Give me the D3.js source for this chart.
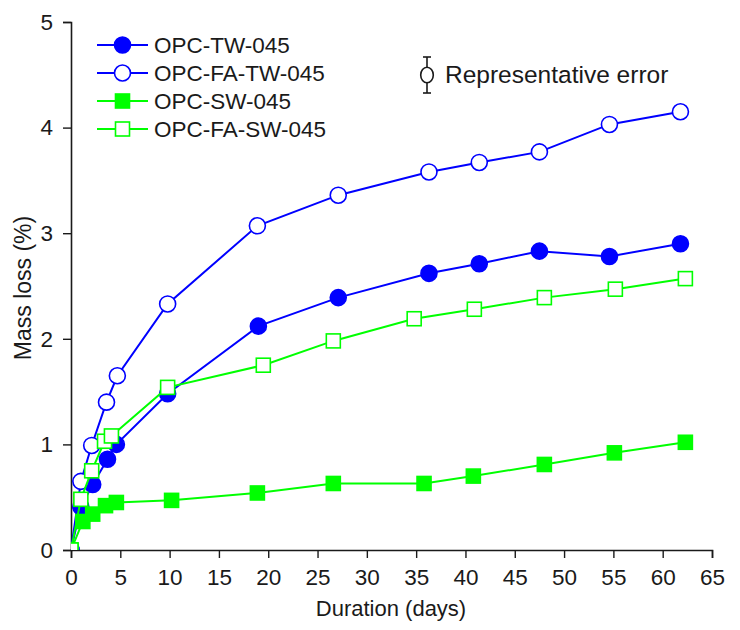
<!DOCTYPE html>
<head>
  <meta charset="utf-8">
  <script src="https://d3js.org/d3.v7.min.js"></script>
  <style>
    body { margin:0; background:#fff; }
    text { font-family: "Liberation Sans", Arial, sans-serif; fill:#1a1a1a; }
    .axis text { font-family: "Liberation Sans", Arial, sans-serif; font-size:22.5px; }
  </style>
</head>

<body>
<svg width="740" height="630"></svg>
<script>

// values
const tw_days   = [0, 1.0, 2.2, 3.7, 4.6, 9.8, 19.0, 27.1, 36.3, 41.4, 47.5, 54.6, 61.8]
const tw_loss   = [0, 0.41, 0.62, 0.86, 1.00, 1.48, 2.12, 2.39, 2.62, 2.71, 2.83, 2.78, 2.90]
const fatw_days = [0, 1.0, 2.1, 3.6, 4.7, 9.8, 18.9, 27.1, 36.3, 41.4, 47.5, 54.6, 61.8]
const fatw_loss = [0, 0.65, 0.99, 1.40, 1.65, 2.33, 3.07, 3.36, 3.58, 3.67, 3.77, 4.03, 4.15]
const sw_days   = [0, 1.2, 2.2, 3.5, 4.6, 10.2, 18.9, 26.6, 35.8, 40.8, 48.0, 55.1, 62.3]
const sw_loss   = [0, 0.27, 0.34, 0.42, 0.45, 0.47, 0.54, 0.63, 0.63, 0.70, 0.81, 0.92, 1.02]
const fasw_days = [0, 1.0, 2.1, 3.4, 4.1, 9.8, 19.5, 26.6, 34.8, 40.9, 48.0, 55.2, 62.3]
const fasw_loss = [0, 0.48, 0.75, 1.03, 1.08, 1.54, 1.75, 1.98, 2.19, 2.28, 2.39, 2.47, 2.57]

const series_names = ["OPC-TW-045", "OPC-FA-TW-045", "OPC-SW-045", "OPC-FA-SW-045"]
const x_ticks = d3.range(0, 66, 5)
const y_ticks = [0, 1, 2, 3, 4, 5]

const blue = "#0000ff", green = "#00ff00"

const series = [
  {name: series_names[0], days: tw_days,   loss: tw_loss,   color: blue,  shape: "circle", filled: true},
  {name: series_names[1], days: fatw_days, loss: fatw_loss, color: blue,  shape: "circle", filled: false},
  {name: series_names[2], days: sw_days,   loss: sw_loss,   color: green, shape: "square", filled: true},
  {name: series_names[3], days: fasw_days, loss: fasw_loss, color: green, shape: "square", filled: false},
]

const svg = d3.select("svg")
const x = d3.scaleLinear().domain([0, 65]).range([71, 712])
const y = d3.scaleLinear().domain([0, 5]).range([550, 22])

svg.append("clipPath").attr("id", "plot")
  .append("rect").attr("x", 71).attr("y", 0).attr("width", 669).attr("height", 550)

// axes
const xa = svg.append("g").attr("class", "axis").attr("transform", "translate(0,550)")
xa.call(d3.axisBottom(x).tickValues(d3.range(2.5, 65, 5)).tickSize(4).tickFormat(""))
xa.call(d3.axisBottom(x).tickValues(x_ticks).tickSize(8).tickPadding(11).tickFormat(d3.format("d")))

const ya = svg.append("g").attr("class", "axis").attr("transform", "translate(71,0)")
ya.call(d3.axisLeft(y).tickValues(d3.range(0.5, 5, 1)).tickSize(4).tickFormat(""))
ya.call(d3.axisLeft(y).tickValues(y_ticks).tickSize(8).tickPadding(10).tickFormat(d3.format("d")))

svg.selectAll(".axis path").attr("stroke", "#1a1a1a").attr("stroke-width", 1.6)
svg.selectAll(".axis line").attr("stroke", "#1a1a1a").attr("stroke-width", 1.4)
svg.selectAll(".axis text").attr("fill", "#1a1a1a")

svg.append("text").attr("x", 391).attr("y", 616).attr("text-anchor", "middle")
  .style("font-size", "22px").text("Duration (days)")
svg.append("text").attr("transform", "translate(31,288) rotate(-90)").attr("text-anchor", "middle")
  .style("font-size", "23px").text("Mass loss (%)")

function marker(g, s, cx, cy) {
  if (s.shape === "circle") {
    g.append("circle").attr("cx", cx).attr("cy", cy).attr("r", 8)
      .attr("fill", s.filled ? s.color : "#fff").attr("stroke", s.color).attr("stroke-width", 1.6)
  } else {
    g.append("rect").attr("x", cx - 7).attr("y", cy - 7).attr("width", 14).attr("height", 14)
      .attr("fill", s.filled ? s.color : "#fff").attr("stroke", s.color).attr("stroke-width", 1.6)
  }
}

const plot = svg.append("g").attr("clip-path", "url(#plot)")
const line = d3.line().x(d => x(d[0])).y(d => y(d[1]))

series.forEach(function(s) {
  const pts = s.days.map((d, i) => [d, s.loss[i]])
  const g = plot.append("g")
  g.append("path").attr("d", line(pts)).attr("fill", "none")
    .attr("stroke", s.color).attr("stroke-width", 2)
  pts.forEach(p => marker(g, s, x(p[0]), y(p[1])))
})

// legend
const leg = svg.append("g")
series.forEach(function(s, i) {
  const ly = 45 + i * 28
  leg.append("line").attr("x1", 97).attr("x2", 148).attr("y1", ly).attr("y2", ly)
    .attr("stroke", s.color).attr("stroke-width", 2)
  marker(leg, s, 122.5, ly)
  leg.append("text").attr("x", 154).attr("y", ly + 8).style("font-size", "22.5px").text(s.name)
})

// representative error symbol
const eg = svg.append("g").attr("stroke", "#1a1a1a").attr("stroke-width", 1.6).attr("fill", "none")
eg.append("line").attr("x1", 427).attr("x2", 427).attr("y1", 57).attr("y2", 93)
eg.append("line").attr("x1", 423).attr("x2", 431).attr("y1", 57).attr("y2", 57)
eg.append("line").attr("x1", 423).attr("x2", 431).attr("y1", 93).attr("y2", 93)
eg.append("ellipse").attr("cx", 427).attr("cy", 75).attr("rx", 6.3).attr("ry", 7.8).attr("fill", "#fff")
svg.append("text").attr("x", 445).attr("y", 83).style("font-size", "24.5px").text("Representative error")

</script>
</body>
